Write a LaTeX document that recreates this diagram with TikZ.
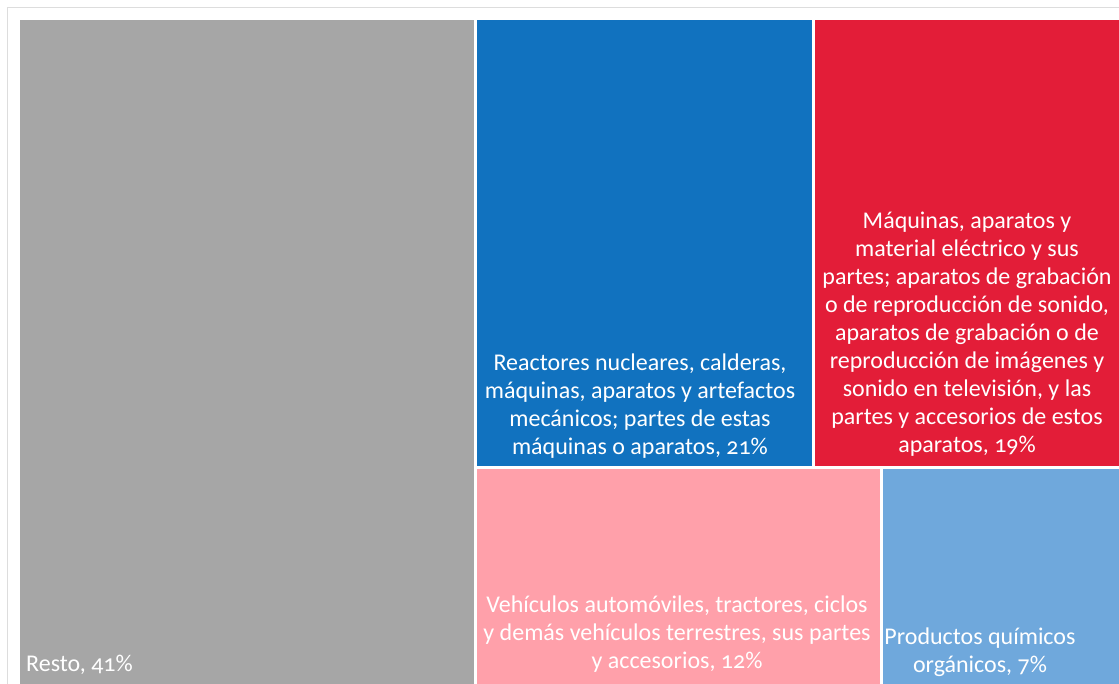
\documentclass[tikz,border=0pt]{standalone}
\usepackage{fontspec}
\setmainfont{Carlito}[Numbers=OldStyle]
\usetikzlibrary{positioning}

\definecolor{gris}{HTML}{A6A6A6}
\definecolor{azul}{HTML}{1172BF}
\definecolor{rojo}{HTML}{E31D38}
\definecolor{rosa}{HTML}{FFA0AA}
\definecolor{celeste}{HTML}{6FA8DC}
\definecolor{marco}{HTML}{DDDDDD}

\begin{document}
\begin{tikzpicture}[x=1pt,y=-1pt,
	tile/.style={anchor=north west,inner sep=0pt,outer sep=0pt},
	lbl/.style={text=white,inner sep=0pt,align=center,font=\fontsize{24}{28}\selectfont}]
	\useasboundingbox (0,0) rectangle (1119,684);
	% frame
	\draw[marco,line width=1.5pt] (7.5,684) -- (7.5,7.5) -- (1119,7.5);
	% tiles
	\node (resto) [tile,fill=gris,minimum width=454pt,minimum height=664pt] at (20,20) {};
	\node (reac) [tile,fill=azul,minimum width=335pt,minimum height=446pt] at (477,20) {};
	\node (maq) [tile,fill=rojo,minimum width=304pt,minimum height=446pt] at (815,20) {};
	\node (veh) [tile,fill=rosa,minimum width=403pt,minimum height=215pt] at (477,469) {};
	\node (quim) [tile,fill=celeste,minimum width=236pt,minimum height=215pt] at (883,469) {};
	% labels (anchored at the last baseline)
	\node (tresto) [lbl,anchor=base west] at (26,671) {Resto, 41\%};
	\node (treac) [lbl,anchor=base] at (640,454) {Reactores nucleares, calderas,\\máquinas, aparatos y artefactos\\mecánicos; partes de estas\\máquinas o aparatos, 21\%};
	\node (tmaq) [lbl,anchor=base] at (967,452) {Máquinas, aparatos y\\material eléctrico y sus\\partes; aparatos de grabación\\o de reproducción de sonido,\\aparatos de grabación o de\\reproducción de imágenes y\\sonido en televisión, y las\\partes y accesorios de estos\\aparatos, 19\%};
	\node (tveh) [lbl,anchor=base] at (677,668) {Vehículos automóviles, tractores, ciclos\\y demás vehículos terrestres, sus partes\\y accesorios, 12\%};
	\node (tquim) [lbl,anchor=base] at (980,672) {Productos químicos\\orgánicos, 7\%};
\end{tikzpicture}
\end{document}
